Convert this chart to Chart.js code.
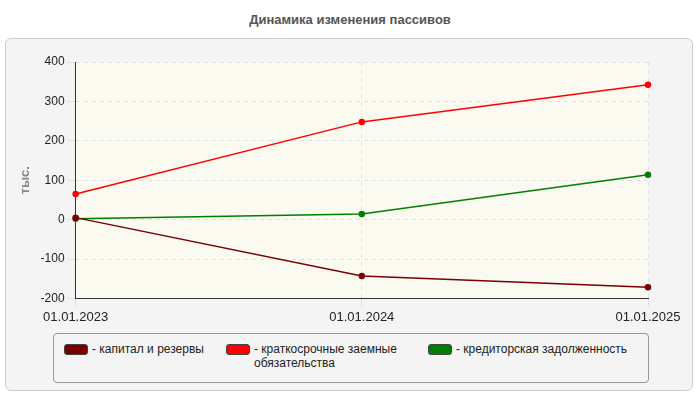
<!DOCTYPE html>
<html><head><meta charset="utf-8">
<script src="https://cdn.jsdelivr.net/npm/chart.js@4/dist/chart.umd.min.js"></script>
<style>
body{margin:0;width:700px;height:400px;background:#fff;font-family:Arial,"Liberation Sans",sans-serif;position:relative;overflow:hidden}
#title{position:absolute;top:12px;left:0;width:700px;text-align:center;font-weight:bold;font-size:13px;color:#555}
#panel{position:absolute;left:5px;top:38px;width:686px;height:351px;background:#f4f4f4;border:1px solid #ccc;border-radius:6px}
#wrap{position:absolute;left:0;top:38px;width:700px;height:290px}
#legend{position:absolute;left:53px;top:333px;width:594px;height:48px;border:1px solid #999;border-radius:4px;background:#f4f4f4;font-size:12px;color:#222}
.item{position:absolute;top:8px;display:flex;align-items:flex-start}
.sw{width:22px;height:9px;border-radius:3px;border:1px solid #444;margin-top:2px;margin-right:4px}
</style></head><body>
<div id="title">Динамика изменения пассивов</div>
<div id="panel"></div>
<div id="wrap"><canvas id="c" width="700" height="290"></canvas></div>
<div id="legend"></div>
<script>
const categories=["01.01.2023","01.01.2024","01.01.2025"];
const capital=[5,-143,-172];
const shortLoans=[65,248,342];
const payables=[2,14,114];
const names=["капитал и резервы","краткосрочные заемные<br>обязательства","кредиторская задолженность"];
const colors=["#7a0000","#ff0000","#008000"];
const lg=document.getElementById('legend');
[10,172,374].forEach((x,i)=>{lg.innerHTML+=`<div class="item" style="left:${x}px"><div class="sw" style="background:${colors[i]}"></div><div>- ${names[i]}</div></div>`;});
const bg={id:'bg',beforeDraw(ch){const a=ch.chartArea,c=ch.ctx;c.save();c.fillStyle='#fcfcf2';c.fillRect(a.left,a.top,a.width,a.height);
c.beginPath();c.rect(a.left,a.top,a.width,a.height);c.clip();c.strokeStyle='rgba(0,0,0,0.035)';c.lineWidth=1;
for(let x=a.left-a.height;x<a.right;x+=4){c.beginPath();c.moveTo(x,a.bottom);c.lineTo(x+a.height,a.top);c.stroke();}c.restore();}};
const ds=(d,i)=>({data:d,borderColor:colors[i],backgroundColor:colors[i],borderWidth:1.5,pointRadius:2.5,tension:0});
new Chart(document.getElementById('c'),{type:'line',plugins:[bg],
data:{labels:categories,datasets:[ds(capital,0),ds(shortLoans,1),ds(payables,2)]},
options:{responsive:false,animation:false,layout:{padding:{left:14,right:52,top:24}},
plugins:{legend:{display:false},tooltip:{enabled:false}},
scales:{x:{offset:false,grid:{color:'#e0e0e0',drawTicks:true},border:{color:'#333',dash:[4,4]},ticks:{color:'#222',font:{size:13},maxRotation:0,align:'center'}},
y:{min:-200,max:400,ticks:{stepSize:100,color:'#222',font:{size:12}},grid:{color:'#e0e0e0'},border:{color:'#333',dash:[4,4]},
title:{display:true,text:'тыс.',color:'#888',font:{size:13,weight:'bold'}}}}}});
</script></body></html>
